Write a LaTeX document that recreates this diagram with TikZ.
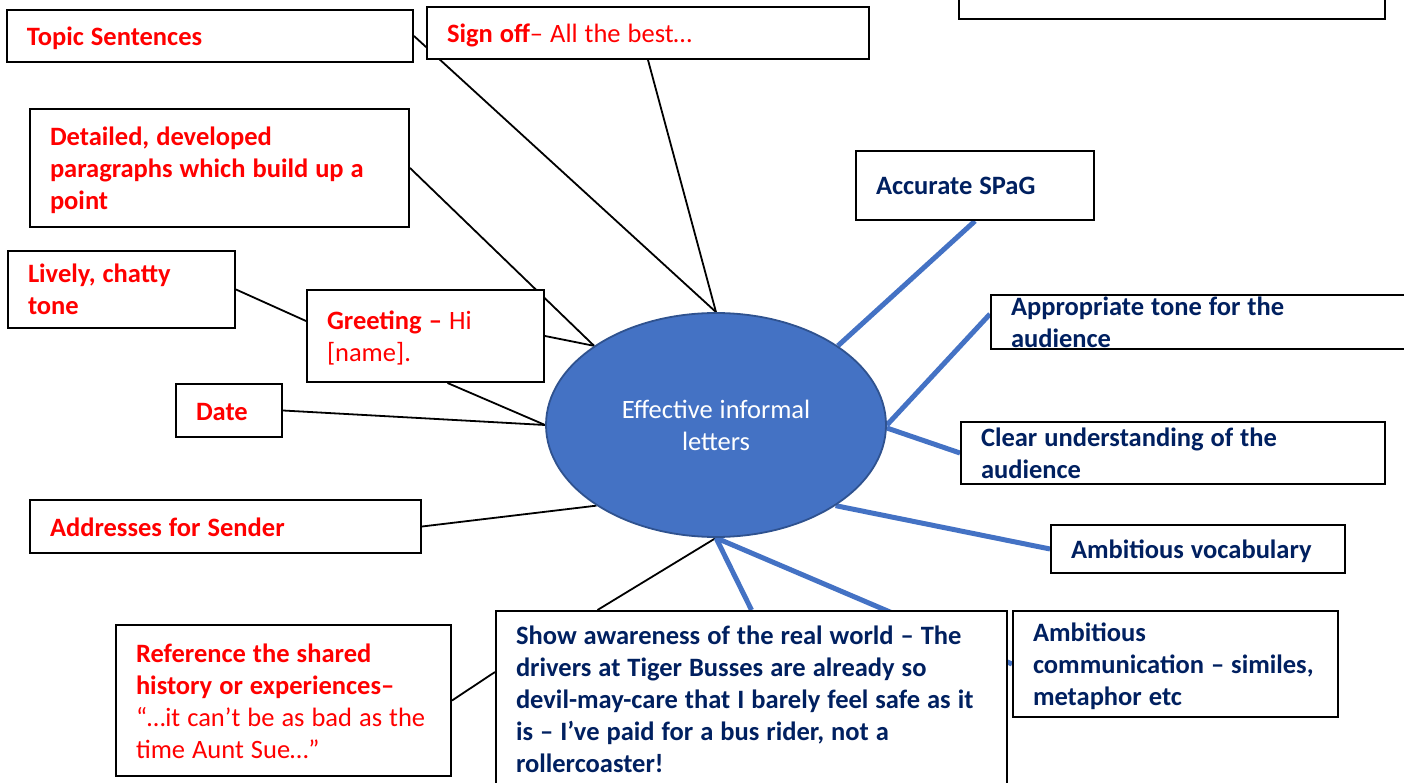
\documentclass[tikz,border=0pt]{standalone}
\usepackage{fontspec}
\setmainfont{Carlito}
\frenchspacing
\usetikzlibrary{shapes.geometric,calc}
\pgfdeclarelayer{bg}
\pgfsetlayers{bg,main}
\definecolor{redt}{HTML}{FF0000}
\definecolor{navy}{HTML}{002060}
\definecolor{bl}{HTML}{4472C4}
\definecolor{bld}{HTML}{2F528F}
\newcommand\lnn[1]{\mbox{\spaceskip=7pt\rule[-5pt]{0pt}{29pt}#1}}
\begin{document}
\begin{tikzpicture}[x=1pt,y=-1pt,
  box/.style={draw=black, line width=2pt, fill=white, rectangle, inner xsep=20pt, inner ysep=0pt, align=left,
    font=\fontsize{26.5}{32}\selectfont\bfseries},
  rbox/.style={box, text=redt},
  nbox/.style={box, text=navy},
  blk/.style={draw=black, line width=1.8pt},
  blu/.style={draw=bl, line width=5pt}]
\useasboundingbox (0,0) rectangle (1404,783);

% centre
\node[ellipse, fill=bl, draw=bld, line width=1.8pt, minimum width=340pt, minimum height=224pt, inner sep=0pt,
  text=white, align=center, font=\fontsize{26.5}{32}\selectfont] (e) at (716,425) {\lnn{Effective informal}\\\lnn{letters}};

% red boxes
\node[rbox, minimum width=406pt, text width=366pt, minimum height=52pt] (topic) at (210,36) {\lnn{Topic Sentences}};
\node[rbox, minimum width=442pt, text width=402pt, minimum height=52pt] (signoff) at (648,33) {\lnn{Sign off{\mdseries– All the best…}}};
\node[rbox, minimum width=379pt, text width=339pt, minimum height=118pt] (detailed) at (219.5,168) {\lnn{Detailed, developed}\\\lnn{paragraphs which build up a}\\\lnn{point}};
\node[rbox, minimum width=227pt, text width=187pt, minimum height=77pt] (lively) at (121.5,289.5) {\lnn{Lively, chatty}\\\lnn{tone}};
\node[rbox, minimum width=237pt, text width=197pt, minimum height=92pt] (greeting) at (425.5,336) {\lnn{Greeting – {\mdseries Hi}}\\\lnn{\mdseries [name].}};
\node[rbox, minimum width=106pt, text width=66pt, minimum height=53pt] (date) at (229,410.5) {\lnn{Date}};
\node[rbox, minimum width=391pt, text width=351pt, minimum height=53pt] (addr) at (225.5,526.5) {\lnn{Addresses for Sender}};
\node[rbox, minimum width=335pt, text width=295pt, minimum height=151pt] (ref) at (283.5,700.5) {\lnn{Reference the shared}\\\lnn{history or experiences–}\\\lnn{\mdseries “…it can’t be as bad as the}\\\lnn{\mdseries time Aunt Sue…”}};

% navy boxes
\node[box, minimum width=426pt, minimum height=80pt] (topright) at (1172,-21) {};
\node[nbox, minimum width=238pt, text width=198pt, minimum height=69pt] (spag) at (975,185.5) {\lnn{Accurate SPaG}};
\node[nbox, minimum width=429pt, text width=389pt, minimum height=54pt, inner ysep=-5pt] (approp) at (1205.5,322) {\lnn{Appropriate tone for the}\\\lnn{audience}};
\node[nbox, minimum width=424pt, text width=384pt, minimum height=62pt] (clear) at (1173,453) {\lnn{Clear understanding of the}\\\lnn{audience}};
\node[nbox, minimum width=294pt, text width=254pt, minimum height=48pt] (vocab) at (1198,549) {\lnn{Ambitious vocabulary}};
\node[nbox, minimum width=325pt, text width=285pt, minimum height=106pt] (ambcomm) at (1175.5,664) {\lnn{Ambitious}\\\lnn{communication – similes,}\\\lnn{metaphor etc}};
\node[nbox, minimum width=511pt, text width=471pt, minimum height=175pt] (show) at (751.5,698.5) {\lnn{Show awareness of the real world – The}\\\lnn{drivers at Tiger Busses are already so}\\\lnn{devil-may-care that I barely feel safe as it}\\\lnn{is – I’ve paid for a bus rider, not a}\\\lnn{rollercoaster!}};

\begin{pgfonlayer}{bg}
\draw[blk] (topic.east) -- (e.90);
\draw[blk] (signoff.south) -- (e.90);
\draw[blk] (detailed.east) -- (e.147);
\draw[blk] (greeting.east) -- (e.147);
\draw[blk] ([xshift=22pt]greeting.south) -- (e.180);
\draw[blk] (lively.east) -- ([yshift=15pt]greeting.west);
\draw[blk] (date.east) -- (e.180);
\draw[blk] (addr.east) -- (e.214);
\draw[blk] (ref.east) -- ([yshift=26.5pt]show.west);
\draw[blk] ([xshift=-154pt]show.north) -- (e.270);
\draw[blu] (spag.south) -- (e.33);
\draw[blu] ([yshift=8pt]approp.west) -- (e.0);
\draw[blu] (clear.west) -- (e.-1);
\draw[blu] (vocab.west) -- (e.326);
\draw[blu] (show.north) -- (e.270);
\draw[blu] (ambcomm.west) -- (e.270);
\end{pgfonlayer}
\end{tikzpicture}
\end{document}
